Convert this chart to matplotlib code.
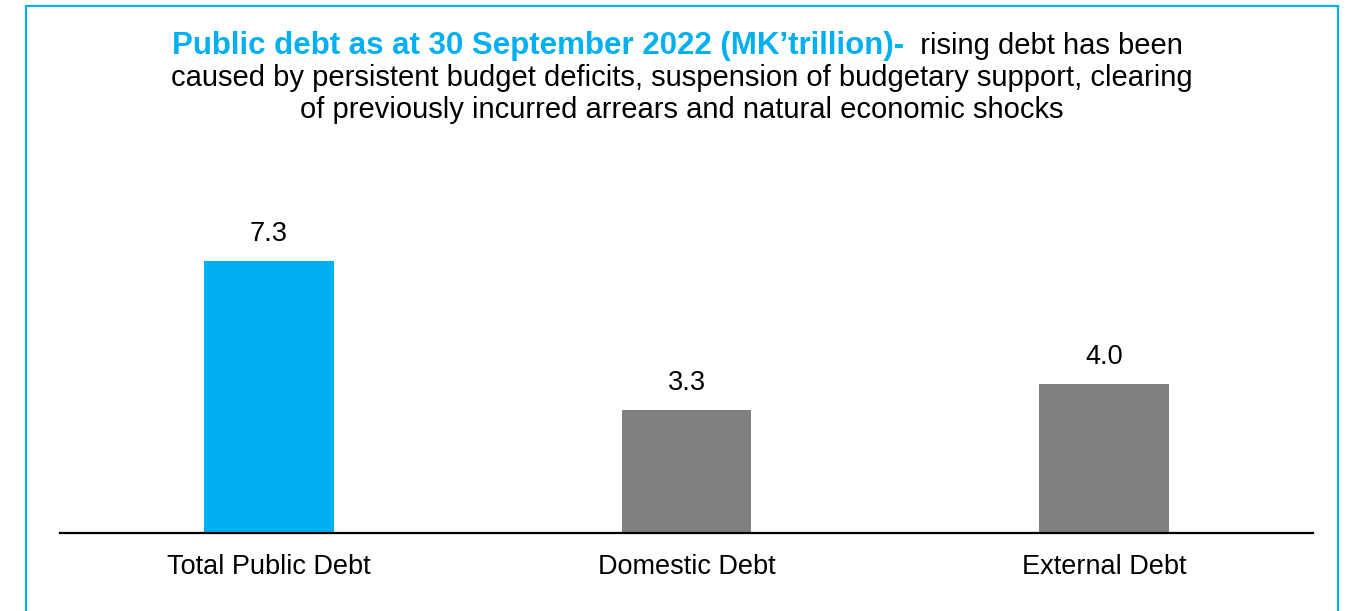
import matplotlib.pyplot as plt
from matplotlib.patches import Rectangle

# 公的債務（MK兆）
categories = ["Total Public Debt", "Domestic Debt", "External Debt"]
values = [7.3, 3.3, 4.0]
colors = ["#00B0F0", "#808080", "#808080"]

plt.rcParams["font.family"] = ["Liberation Sans", "DejaVu Sans"]

fig = plt.figure(figsize=(13.47, 6.11), dpi=100)

# 枠線
fig.patches.append(Rectangle((26 / 1347, -0.1), (1338 - 26) / 1347, 1.1 - 6 / 611,
                             transform=fig.transFigure, fill=False,
                             edgecolor="#00B0F0", linewidth=1.6))

ax = fig.add_axes([60 / 1347, 1 - 533 / 611, (1313 - 60) / 1347, 8 * 37.3 / 611])
x = range(len(categories))
bars = ax.bar(x, values, width=0.31, color=colors)
ax.set_xlim(-0.5, 2.5)
ax.set_ylim(0, 8)

for xi, v in zip(x, values):
    ax.annotate(f"{v:.1f}", (xi, v), xytext=(0, 10), textcoords="offset points",
                ha="center", va="bottom", fontsize=19.5)

ax.set_xticks(list(x))
ax.set_xticklabels(categories, fontsize=19.5)
ax.tick_params(axis="x", length=0, pad=15)
ax.set_yticks([])
for s in ["top", "right", "left"]:
    ax.spines[s].set_visible(False)
ax.spines["bottom"].set_linewidth(1.6)
ax.spines["bottom"].set_color("black")

# タイトル
t1 = fig.text(172 / 1347, 1 - 46 / 611, "Public debt as at 30 September 2022 (MK\u2019trillion)-",
              color="#00B0F0", fontweight="bold", fontsize=22.5, ha="left", va="center")
ax.annotate("  rising debt has been", xy=(1, 0.5), xycoords=t1, ha="left", va="center",
            fontsize=21, color="black", annotation_clip=False)
fig.text(682 / 1347, 1 - 78 / 611,
         "caused by persistent budget deficits, suspension of budgetary support, clearing",
         ha="center", va="center", fontsize=21)
fig.text(682 / 1347, 1 - 110 / 611,
         "of previously incurred arrears and natural economic shocks",
         ha="center", va="center", fontsize=21)

fig.savefig("out.png", dpi=100)
